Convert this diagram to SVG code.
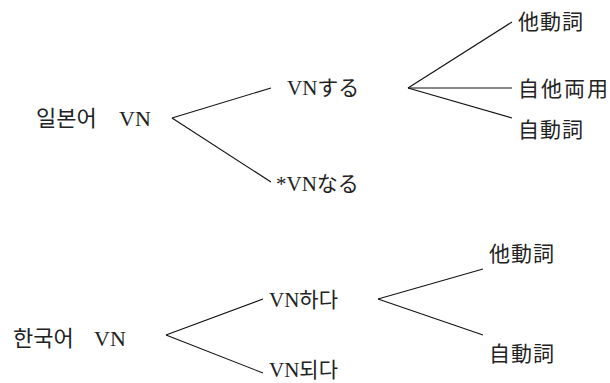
<svg xmlns="http://www.w3.org/2000/svg" width="610" height="383" viewBox="0 0 610 383">
<style>
text{font-family:"Liberation Serif","Noto Sans CJK JP","Noto Sans CJK KR",serif;font-size:21px;fill:#222}
.big{font-size:22px}
.cjk{letter-spacing:1px}
.c line{stroke:#111;stroke-width:1.1}
</style>
<rect width="610" height="383" fill="#fff"/>
<g class="c" id="connectors">
<line x1="172" y1="118" x2="271" y2="88"/>
<line x1="172" y1="118" x2="271" y2="182"/>
<line x1="408" y1="88" x2="512" y2="22"/>
<line x1="408" y1="88" x2="512" y2="88"/>
<line x1="408" y1="88" x2="512" y2="118"/>
<line x1="166" y1="335" x2="263" y2="299"/>
<line x1="166" y1="335" x2="263" y2="373"/>
<line x1="378" y1="299" x2="483" y2="269"/>
<line x1="378" y1="299" x2="483" y2="335"/>
</g>
<g id="jp-vn"><text class="big" y="126"><tspan x="36">일본어</tspan><tspan x="119">VN</tspan></text></g>
<g id="vn-suru"><text x="287" y="95">VNする</text></g>
<g id="vn-naru"><text x="276" y="191">*VNなる</text></g>
<g id="jp-ta"><text class="cjk" x="518" y="29">他動詞</text></g>
<g id="jp-jita"><text x="518" y="96" letter-spacing="2">自他両用</text></g>
<g id="jp-ji"><text class="cjk" x="518" y="137">自動詞</text></g>
<g id="ko-vn"><text class="big" y="346"><tspan x="13">한국어</tspan><tspan x="94">VN</tspan></text></g>
<g id="vn-hada"><text x="269" y="307">VN하다</text></g>
<g id="vn-doeda"><text x="269" y="377">VN되다</text></g>
<g id="ko-ta"><text class="cjk" x="489" y="261">他動詞</text></g>
<g id="ko-ji"><text class="cjk" x="489" y="361">自動詞</text></g>
</svg>
